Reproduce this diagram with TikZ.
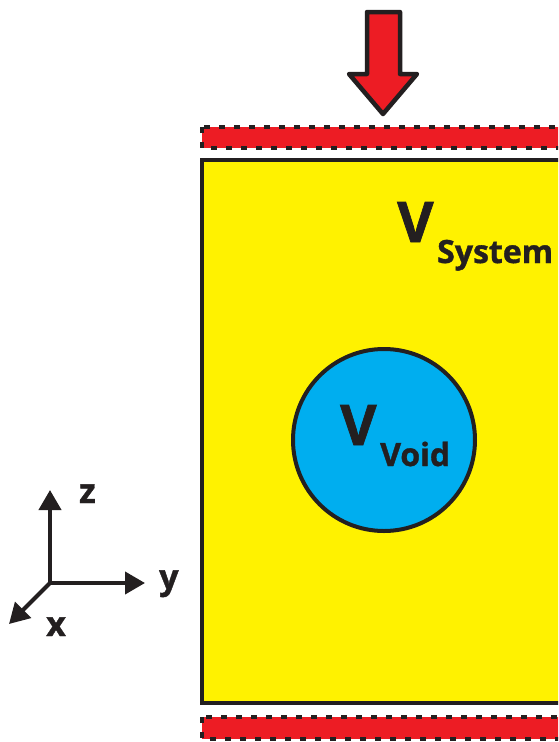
\documentclass[tikz,border=0pt]{standalone}
\usepackage{fontspec}
\setmainfont{Open Sans}[BoldFeatures={FakeBold=1.2}]
\usepackage{tikz}
\usetikzlibrary{arrows.meta, positioning}

\definecolor{plateRed}{RGB}{237,28,36}
\definecolor{sysYellow}{RGB}{255,242,0}
\definecolor{voidBlue}{RGB}{0,174,239}
\definecolor{inkBlack}{RGB}{35,31,32}

\begin{document}
\begin{tikzpicture}[x=1pt, y=-1pt,
    plate/.style={fill=plateRed, draw=inkBlack, line width=4.5pt, dash pattern=on 6pt off 9pt},
    axis/.style={draw=inkBlack, line width=4pt, -{Triangle[length=20pt, width=22pt]}},
    biglabel/.style={font=\fontsize{56}{56}\selectfont\bfseries, text=inkBlack, inner sep=0pt, anchor=base west},
    sublabel/.style={font=\fontsize{32}{32}\selectfont\bfseries, text=inkBlack, inner sep=0pt, anchor=base west},
    axislabel/.style={font=\fontsize{34}{34}\selectfont\bfseries, text=inkBlack, inner sep=0pt, anchor=base west},
]
  \useasboundingbox (0,0) rectangle (558,742);
  \clip (0,0) rectangle (558,742);

  % loading arrow
  \draw[fill=plateRed, draw=inkBlack, line width=4.5pt, line join=round]
    (367,12) -- (400,12) -- (400,74) -- (417,74) -- (383,114) -- (349,74) -- (367,74) -- cycle;

  % plates
  \draw[plate] (202,127) rectangle (620,148);
  \draw[plate] (202,717) rectangle (620,739);

  % system and void
  \draw[fill=sysYellow, draw=inkBlack, line width=4.5pt] (202,160) rectangle (620,703);
  \draw[fill=voidBlue, draw=inkBlack, line width=4pt] (384,440) circle (91);

  \node[biglabel] (vsys) at (397,242) {V};
  \node[sublabel] (vsyssub) at (437,263) {System};
  \node[biglabel] (vvoid) at (340,445) {V};
  \node[sublabel] (vvoidsub) at (380,466) {Void};

  % axes
  \coordinate (origin) at (50,583);
  \coordinate (ztip) at (50,490);
  \coordinate (ytip) at (145,583);
  \coordinate (xtip) at (9,624);
  \draw[axis] (origin) -- (ztip);
  \draw[axis] (origin) -- (ytip);
  \draw[axis] (origin) -- (xtip);

  \node[axislabel] (zlabel) at (79,503) {z};
  \node[axislabel] (ylabel) at (159,589) {y};
  \node[axislabel] (xlabel) at (46,636) {x};
\end{tikzpicture}
\end{document}
